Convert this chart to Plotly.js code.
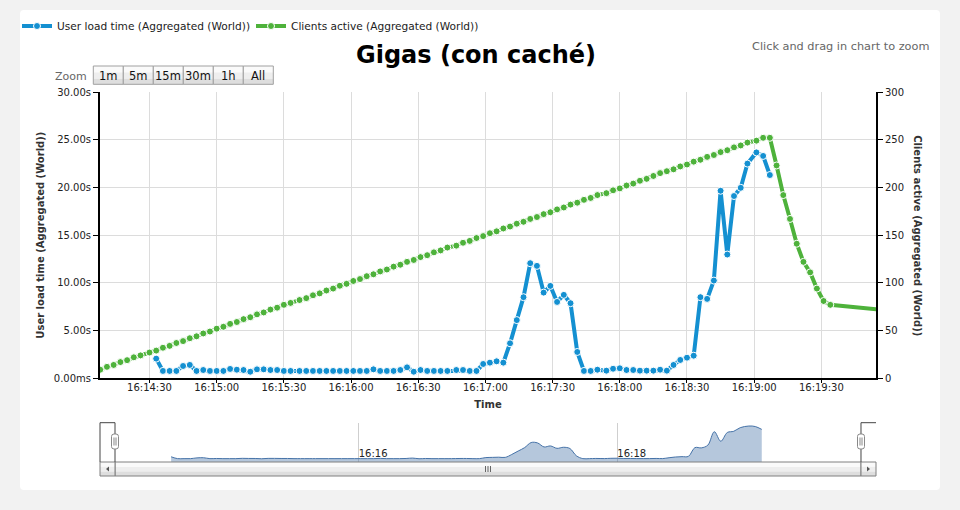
<!DOCTYPE html>
<html><head><meta charset="utf-8">
<script src="https://cdn.plot.ly/plotly-3.0.1.min.js"></script>
<style>
html,body{margin:0;padding:0;background:#f2f2f2;}
#panel{position:absolute;left:20px;top:10px;width:920px;height:480px;background:#fff;border-radius:4px;}
#chart{position:absolute;left:0;top:0;width:960px;height:510px;}
</style></head><body>
<div id="panel"></div><div id="chart"></div>
<script>
// ---------------- DATA ----------------
const day = '2013-05-14 ';
const times = [
 '16:14:08','16:14:11','16:14:14','16:14:17','16:14:20','16:14:23','16:14:26','16:14:30','16:14:33','16:14:36',
 '16:14:39','16:14:42','16:14:45','16:14:48','16:14:51','16:14:54','16:14:57','16:15:00','16:15:03','16:15:06',
 '16:15:09','16:15:12','16:15:15','16:15:18','16:15:21','16:15:24','16:15:27','16:15:30','16:15:33','16:15:37',
 '16:15:40','16:15:43','16:15:46','16:15:49','16:15:52','16:15:55','16:15:58','16:16:01','16:16:04','16:16:07',
 '16:16:10','16:16:13','16:16:16','16:16:19','16:16:22','16:16:25','16:16:28','16:16:31','16:16:34','16:16:37',
 '16:16:40','16:16:43','16:16:47','16:16:50','16:16:53','16:16:56','16:16:59','16:17:02','16:17:05','16:17:08',
 '16:17:11','16:17:14','16:17:17','16:17:20','16:17:23','16:17:26','16:17:29','16:17:32','16:17:35','16:17:38',
 '16:17:41','16:17:44','16:17:47','16:17:50','16:17:54','16:17:57','16:18:00','16:18:03','16:18:06','16:18:09',
 '16:18:12','16:18:15','16:18:18','16:18:21','16:18:24','16:18:27','16:18:30','16:18:33','16:18:36','16:18:39',
 '16:18:42','16:18:45','16:18:48','16:18:51','16:18:54','16:18:57','16:19:01','16:19:04','16:19:07','16:19:10',
 '16:19:13','16:19:16','16:19:19','16:19:22','16:19:25','16:19:28','16:19:31','16:19:34','16:20:00'
];
// Clients active (right axis), one value per entry of `times`
const clientsActive = [
  9, 12, 14, 17, 19, 22, 24, 27, 29, 32,
 34, 37, 39, 42, 44, 47, 49, 52, 54, 57,
 59, 62, 64, 67, 69, 72, 74, 77, 79, 82,
 84, 87, 89, 92, 94, 97, 99,102,104,107,
109,112,114,117,119,122,124,127,129,132,
134,137,139,142,144,147,149,152,154,157,
159,162,164,167,169,172,174,177,179,182,
184,187,189,192,194,197,199,202,204,207,
209,212,215,217,219,222,224,227,229,232,
234,237,239,242,244,247,249,252,252,223,
192,167,141,122,111, 94, 81, 77, 71
];
// User load time in seconds (left axis); starts at times[loadTimeFirst]
const loadTimeFirst = 8;
const loadTimeSec = [
 2.06,0.77,0.77,0.77,1.29,1.40,0.77,0.87,0.77,0.77,
 0.77,0.98,0.90,0.87,0.69,0.94,0.94,0.87,0.87,0.77,
 0.77,0.77,0.77,0.77,0.77,0.77,0.77,0.77,0.77,0.77,
 0.77,0.77,0.94,0.77,0.77,0.77,0.87,1.15,0.69,0.87,
 0.77,0.77,0.77,0.77,0.87,0.87,0.77,0.77,1.50,1.64,
 1.78,1.64,3.67,6.10,8.50,12.06,11.78,8.98,9.68,8.00,
 8.74,7.87,2.76,0.77,0.77,0.90,0.80,1.00,1.05,0.87,
 0.87,0.80,0.80,0.80,0.90,0.80,1.40,1.92,2.16,2.37,
 8.50,8.32,10.24,19.65,12.97,19.10,19.96,22.50,23.67,23.30,
 21.30
];
const seriesNames = ['User load time (Aggregated (World))', 'Clients active (Aggregated (World))'];
const leftTickVals = [0, 5, 10, 15, 20, 25, 30];
const leftTickText = ['0.00ms', '5.00s', '10.00s', '15.00s', '20.00s', '25.00s', '30.00s'];
const rightTickVals = [0, 50, 100, 150, 200, 250, 300];
const navTickVals = ['16:16:00', '16:18:00'];
const zoomButtons = ['1m', '5m', '15m', '30m', '1h', 'All'];
const viewRange = ['16:14:07.9', '16:19:54.4'];
const navRange = ['16:14:00', '16:20:00'];
const navYRange = [-1.6, 26.0];

// ---------------- BUILD ----------------
const t = s => day + s;
const allX = times.map(t);
const loadX = allX.slice(loadTimeFirst, loadTimeFirst + loadTimeSec.length);

const BLUE = '#1490d1', GREEN = '#4eb23b';
const FONT = 'DejaVu Sans';

const L = 100, R = 876, T = 92, B = 462;
const fx = x => (x - L) / (R - L);
const fy = y => (B - y) / (B - T);
const mainBottom = fy(378.3);
const navTop = fy(422.7);

const traces = [
  {x: loadX, y: loadTimeSec, name: seriesNames[0], type: 'scatter', mode: 'lines+markers',
   xaxis: 'x', yaxis: 'y', legend: 'legend', line: {color: BLUE, width: 4},
   marker: {size: 7, color: BLUE, line: {color: '#fff', width: 1}}},
  {x: allX, y: clientsActive, name: seriesNames[1], type: 'scatter', mode: 'lines+markers',
   xaxis: 'x', yaxis: 'y2', legend: 'legend2', line: {color: GREEN, width: 4},
   marker: {size: 7, color: GREEN, line: {color: '#fff', width: 1}}},
  {x: [loadX[0], loadX[loadX.length - 1]], y: [navYRange[0], navYRange[0]], xaxis: 'x2', yaxis: 'y3',
   mode: 'lines', line: {width: 0}, showlegend: false, hoverinfo: 'skip'},
  {x: loadX, y: loadTimeSec, xaxis: 'x2', yaxis: 'y3', mode: 'lines', showlegend: false,
   line: {color: '#4572a7', width: 1, shape: 'spline'}, fill: 'tonexty', fillcolor: 'rgba(69,114,167,0.4)'}
];

const shapes = [];
function rect(x0, y0, x1, y1, fill, line, lw) {
  shapes.push({type: 'rect', xref: 'paper', yref: 'paper', layer: 'above',
    x0: fx(x0), x1: fx(x1), y0: fy(y1), y1: fy(y0),
    fillcolor: fill || 'rgba(0,0,0,0)', line: {color: line || 'rgba(0,0,0,0)', width: lw || 0}});
}
function path(cmds, fill, line, lw) {
  const d = cmds.map(c => typeof c === 'string' ? c : fx(c[0]).toFixed(5) + ',' + fy(c[1]).toFixed(5)).join(' ');
  shapes.push({type: 'path', xref: 'paper', yref: 'paper', layer: 'above', path: d,
    fillcolor: fill || 'rgba(0,0,0,0)', line: {color: line || 'rgba(0,0,0,0)', width: lw || 0}});
}
function roundRect(x0, y0, x1, y1, r, fill, line) {
  path(['M', [x0 + r, y0], 'L', [x1 - r, y0], 'Q', [x1, y0], [x1, y0 + r], 'L', [x1, y1 - r],
        'Q', [x1, y1], [x1 - r, y1], 'L', [x0 + r, y1], 'Q', [x0, y1], [x0, y1 - r], 'L', [x0, y0 + r],
        'Q', [x0, y0], [x0 + r, y0], 'Z'], fill, line, 1);
}
function gradBox(x0, y0, x1, y1, border) {
  const h = y1 - y0;
  rect(x0, y0, x1, y0 + h * 0.35, '#fafafa');
  rect(x0, y0 + h * 0.35, x1, y0 + h * 0.7, '#eeeeee');
  rect(x0, y0 + h * 0.7, x1, y1, '#dedede');
  rect(x0, y0, x1, y1, null, border, 1);
}

// scrollbar
rect(100, 462, 876, 476, '#eeeeee');
gradBox(115, 462, 861, 476, '#808080');
gradBox(100, 462, 115, 476, '#808080');
gradBox(861, 462, 876, 476, '#808080');
path(['M', [106, 469], 'L', [109, 466.5], 'L', [109, 471.5], 'Z'], '#555');
path(['M', [870, 469], 'L', [867, 466.5], 'L', [867, 471.5], 'Z'], '#555');
[485.5, 488, 490.5].forEach(x => path(['M', [x, 466], 'L', [x, 472]], null, '#666', 1));
// navigator outline
path(['M', [100, 462], 'L', [100, 422.7], 'L', [115, 422.7], 'L', [115, 462]], null, '#444', 1);
path(['M', [861, 462], 'L', [861, 422.7], 'L', [876, 422.7]], null, '#444', 1);
// handles
[115, 861].forEach(cx => {
  roundRect(cx - 3.5, 434, cx + 3.5, 449, 2.5, '#ffffff', '#888');
  path(['M', [cx - 1, 437.5], 'L', [cx - 1, 445.5]], null, '#888', 1);
  path(['M', [cx + 1, 437.5], 'L', [cx + 1, 445.5]], null, '#888', 1);
});
// zoom buttons
const annotations = [];
const btnX0 = 93.3, btnW = 30, btnY0 = 66, btnY1 = 84.3;
zoomButtons.forEach((b, i) => {
  const x0 = btnX0 + i * btnW;
  gradBox(x0, btnY0, x0 + btnW, btnY1, '#a0a0a0');
  annotations.push({xref: 'paper', yref: 'paper', x: fx(x0 + btnW / 2), y: fy((btnY0 + btnY1) / 2 + 0.5),
    text: b, showarrow: false, xanchor: 'center', yanchor: 'middle', borderpad: 0,
    font: {family: FONT, size: 11.5, color: '#111'}});
});
annotations.push({xref: 'paper', yref: 'paper', x: fx(88), y: fy(76.5), text: 'Zoom', showarrow: false,
  xanchor: 'right', yanchor: 'middle', borderpad: 0, font: {family: FONT, size: 11, color: '#666'}});
annotations.push({xref: 'paper', yref: 'paper', x: fx(930), y: fy(46.5), text: 'Click and drag in chart to zoom',
  showarrow: false, xanchor: 'right', yanchor: 'middle', borderpad: 0, font: {family: FONT, size: 11.3, color: '#666'}});
annotations.push({xref: 'paper', yref: 'paper', x: fx(918), y: (mainBottom + 1) / 2, text: seriesNames[1],
  textangle: 90, showarrow: false, xanchor: 'center', yanchor: 'middle', borderpad: 0,
  font: {family: FONT, size: 10, color: '#333', weight: 'bold'}});

const tickFont = {family: FONT, size: 10, color: '#222'};
const legendBase = {orientation: 'h', xref: 'paper', yref: 'paper', xanchor: 'left', y: fy(26), yanchor: 'middle',
  bgcolor: 'rgba(0,0,0,0)', font: {family: FONT, size: 10.6, color: '#222'}, traceorder: 'normal'};
const layout = {
  width: 960, height: 510,
  margin: {l: L, r: 960 - R, t: T, b: 510 - B, pad: 0},
  paper_bgcolor: 'rgba(0,0,0,0)', plot_bgcolor: 'rgba(0,0,0,0)',
  showlegend: true,
  hovermode: false,
  title: {text: 'Gigas (con caché)', xref: 'container', yref: 'container', x: 476 / 960, xanchor: 'center',
    y: 1 - 54.9 / 510, yanchor: 'middle', font: {family: FONT, size: 24, color: '#000', weight: 'bold'}},
  legend: Object.assign({}, legendBase, {x: fx(17)}),
  legend2: Object.assign({}, legendBase, {x: fx(251)}),
  xaxis: {type: 'date', domain: [0, 1], anchor: 'y', range: viewRange.map(t),
    tick0: t('16:14:00'), dtick: 30000, tickformat: '%H:%M:%S', tickfont: tickFont,
    ticks: 'outside', ticklen: 3, tickcolor: '#000', ticklabelstandoff: -4,
    showline: true, linecolor: '#000', linewidth: 2,
    showgrid: true, gridcolor: '#dcdcdc', zeroline: false, automargin: false,
    title: {text: 'Time', standoff: 9, font: {family: FONT, size: 10, color: '#333', weight: 'bold'}}},
  yaxis: {domain: [mainBottom, 1], anchor: 'x', range: [0, 30], tickvals: leftTickVals, ticktext: leftTickText,
    tickfont: tickFont, ticks: 'outside', ticklen: 5, tickcolor: '#000', showline: true, linecolor: '#000',
    linewidth: 2, showgrid: true, gridcolor: '#dcdcdc', zeroline: false, automargin: false,
    title: {text: seriesNames[0], standoff: 7, font: {family: FONT, size: 10, color: '#333', weight: 'bold'}}},
  yaxis2: {overlaying: 'y', side: 'right', anchor: 'x', range: [0, 300], tickvals: rightTickVals,
    tickfont: tickFont, ticks: 'outside', ticklen: 5, tickcolor: '#000', showline: true, linecolor: '#000',
    linewidth: 2, showgrid: false, zeroline: false, automargin: false},
  xaxis2: {type: 'date', domain: [0, 1], anchor: 'y3', range: navRange.map(t), tickvals: navTickVals.map(t),
    tickformat: '%H:%M', tickfont: tickFont, ticks: '', ticklabelposition: 'inside right', ticklabelstandoff: -3,
    showgrid: true, gridcolor: '#cfcfcf', showline: false, zeroline: false, automargin: false},
  yaxis3: {domain: [0, navTop], anchor: 'x2', range: navYRange, showgrid: false, zeroline: false,
    showticklabels: false, ticks: '', showline: false, automargin: false},
  shapes: shapes,
  annotations: annotations
};

Plotly.newPlot('chart', traces, layout, {staticPlot: true, displayModeBar: false});
</script>
</body></html>
